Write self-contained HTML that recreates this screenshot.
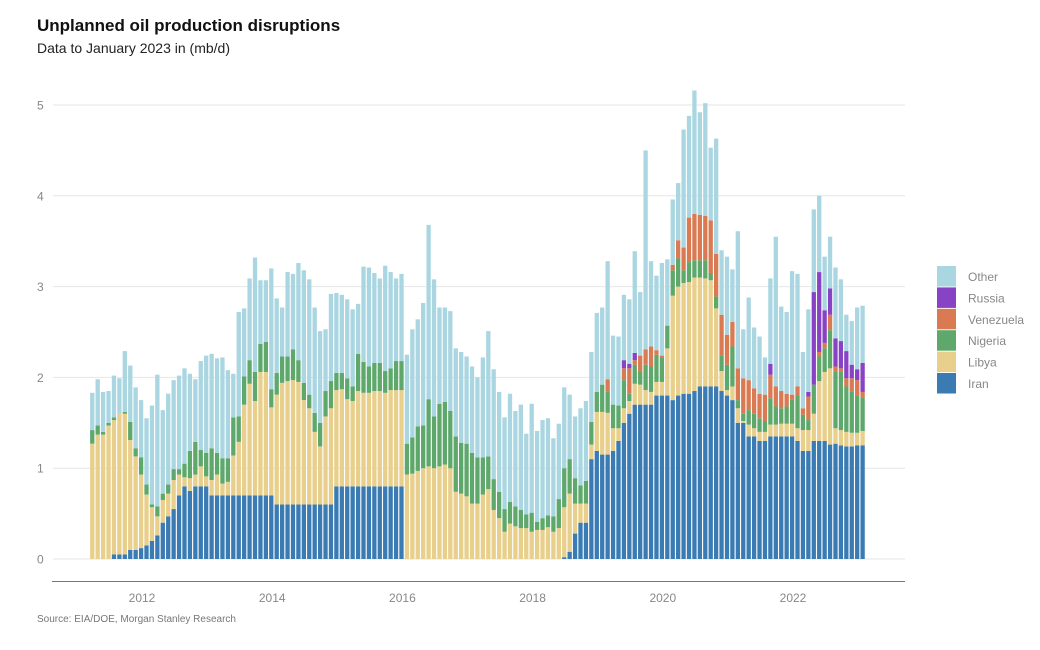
<!DOCTYPE html>
<html><head><meta charset="utf-8"><style>
body{margin:0;background:#fff;width:1040px;height:650px;overflow:hidden;font-family:"Liberation Sans",Arial,sans-serif}
svg{display:block}
</style></head><body>
<svg id="chart" width="1040" height="650" xmlns="http://www.w3.org/2000/svg" font-family="Liberation Sans, Arial, sans-serif">
<text x="37" y="31" font-size="17" font-weight="bold" fill="#111">Unplanned oil production disruptions</text>
<text x="37" y="53" font-size="14" fill="#222">Data to January 2023 in (mb/d)</text>
<g id="grid"></g>
<g id="bars"></g>
<g id="xaxis"></g>
<g id="legend"></g>
<text x="37" y="622" font-size="10" fill="#777">Source: EIA/DOE, Morgan Stanley Research</text>
</svg>
<script>
const yTicks=[0,1,2,3,4,5];
const xTickYears=[2012,2014,2016,2018,2020,2022];
const seriesNames=["Iran","Libya","Nigeria","Venezuela","Russia","Other"];
const startYear=2011.236;
const iran=[0,0,0,0,.05,.05,.05,.1,.1,.12,.15,.2,.26,.4,.47,.55,.7,.8,.75,.8,.8,.8,
.7,.7,.7,.7,.7,.7,.7,.7,.7,.7,.7,.7,
.6,.6,.6,.6,.6,.6,.6,.6,.6,.6,.6,
.8,.8,.8,.8,.8,.8,.8,.8,.8,.8,.8,.8,.8,
0,0,0,0,0,0,0,0,0,0,0,0,0,0,0,0,0,0,0,0,0,0,0,0,0,0,0,0,0,
.02,.08,.28,.4,.4,1.1,1.19,1.15,1.15,1.19,1.3,1.5,1.6,1.7,1.7,1.7,1.7,1.8,1.8,1.8,1.75,1.8,1.82,1.82,1.85,1.9,1.9,1.9,1.9,1.85,1.8,1.75,1.5,1.5,1.35,1.35,1.3,1.3,1.35,1.35,1.35,1.35,1.35,1.3,1.19,1.19,1.3,1.3,1.3,1.26,1.27,1.25,1.24,1.24,1.25,1.25];
const libya=[1.27,1.37,1.37,1.47,1.48,1.55,1.55,1.21,1.03,.81,.56,.37,.21,.25,.25,.32,.23,.1,.14,.13,.22,.11,.17,.23,.13,.15,.44,.59,1.0,1.23,1.04,1.36,1.36,.97,1.21,1.34,1.36,1.37,1.35,1.15,1.06,.8,.64,.97,1.06,1.06,1.07,.96,.94,1.05,1.03,1.03,1.05,1.05,1.03,1.06,1.06,1.06,
.93,.94,.97,1.0,1.02,1.0,1.02,1.04,1.0,.74,.72,.69,.61,.61,.71,.77,.54,.45,.3,.39,.36,.34,.34,.3,.32,.32,.35,.3,.34,
.55,.64,.33,.21,.21,.16,.43,.47,.46,.25,.14,.16,.14,.23,.22,.16,.14,.15,.15,.52,1.15,1.2,1.22,1.23,1.25,1.2,1.19,1.17,.86,.22,.06,.15,.16,.02,.13,.09,.1,.1,.13,.13,.14,.14,.14,.14,.23,.23,.3,.66,.76,.84,.17,.17,.16,.15,.14,.16];
const nigeria=[.15,.1,.03,.03,.03,0,.02,.2,.09,.19,.11,.03,.11,.07,.1,.12,.06,.15,.3,.36,.18,.26,.35,.24,.28,.26,.42,.28,.31,.26,.32,.31,.33,.2,.24,.29,.27,.34,.24,.19,.15,.21,.26,.28,.3,.19,.18,.23,.16,.41,.34,.29,.31,.31,.24,.24,.32,.32,
.34,.4,.49,.47,.74,.57,.69,.69,.63,.61,.56,.58,.56,.51,.41,.36,.34,.29,.25,.24,.22,.2,.15,.21,.09,.13,.13,.17,.32,
.43,.38,.28,.2,.25,.25,.22,.3,.23,.26,.25,.31,.08,.21,.14,.28,.28,.3,.27,.25,.28,.31,.14,.22,.19,.19,.2,.08,.13,.17,.28,.44,.09,.08,.16,.16,.15,.12,.29,.2,.17,.19,.27,.36,.17,.11,.32,.27,.26,.42,.62,.64,.5,.45,.41,.37];
const venezuela=[0,0,0,0,0,0,0,0,0,0,0,0,0,0,0,0,0,0,0,0,0,0,0,0,0,0,0,0,0,0,0,0,0,0,0,0,0,0,0,0,0,0,0,0,0,0,0,0,0,0,0,0,0,0,0,0,0,0,0,0,0,0,0,0,0,0,0,0,0,0,0,0,0,0,0,0,0,0,0,0,0,0,0,0,0,0,0,0,0,0,0,0,0,0,0,
.14,0,0,.13,.28,.05,.18,.17,.22,.05,.02,0,.06,.2,.25,.49,.51,.5,.49,.58,.47,.45,.33,.27,.35,.39,.33,.28,.27,.29,.26,.22,.19,.14,.05,.1,.07,.26,0,.05,.06,.17,.06,.04,.09,.15,.17,.06];
const russia=[0,0,0,0,0,0,0,0,0,0,0,0,0,0,0,0,0,0,0,0,0,0,0,0,0,0,0,0,0,0,0,0,0,0,0,0,0,0,0,0,0,0,0,0,0,0,0,0,0,0,0,0,0,0,0,0,0,0,0,0,0,0,0,0,0,0,0,0,0,0,0,0,0,0,0,0,0,0,0,0,0,0,0,0,0,0,0,0,0,0,0,0,0,0,0,0,0,0,
.09,.05,.08,0,0,0,0,0,0,0,0,0,0,0,0,0,0,0,0,0,0,0,0,0,0,0,0,.12,0,0,0,0,0,0,.05,1.02,.88,.36,.29,.31,.3,.3,.15,.12,.32];
const other=[.41,.51,.44,.35,.46,.39,.67,.62,.67,.63,.73,1.09,1.45,.92,1.0,.98,1.03,1.05,.85,.69,.98,1.07,1.04,1.04,1.11,.97,.48,1.15,.75,.9,1.26,.7,.68,1.33,.82,.54,.93,.83,1.07,1.24,1.27,1.16,1.01,.68,.96,.88,.86,.87,.85,.55,1.05,1.09,.99,.93,1.16,1.06,.91,.96,
.98,1.19,1.18,1.35,1.92,1.51,1.06,1.04,1.1,.97,1.0,.96,.95,.88,1.1,1.38,1.21,1.1,1.01,1.19,1.05,1.16,.89,1.2,1.0,1.08,1.07,.86,.83,
.89,.71,.68,.85,.88,.77,.87,.85,1.3,.76,.76,.72,.71,1.12,.7,2.19,.94,.82,1.02,.73,.72,.63,1.3,1.12,1.36,1.13,1.24,.8,1.27,.71,.86,.58,1.51,.54,.91,.67,.63,.41,.94,1.65,.93,.9,1.36,1.24,.62,.91,.91,.84,.59,.57,.78,.68,.4,.48,.68,.63];
const colors=["#3a7bb3","#e8cf8b","#5ea86c","#d97a52","#8843c4","#aad6e1"];

const NS="http://www.w3.org/2000/svg";
function mk(tag,attrs,parent){const e=document.createElementNS(NS,tag);for(const k in attrs)e.setAttribute(k,attrs[k]);parent.appendChild(e);return e;}
const y=v=>559-v*90.8;
const xYear=t=>142+(t-2012)*65.1;
const xBar=i=>xYear(startYear+i/12);
const grid=document.getElementById('grid');
yTicks.forEach(t=>{
  const l=mk('line',{x1:53,x2:905,y1:y(t),y2:y(t),stroke:'#e6e6e6','stroke-width':1},grid);
  
  
  const tx=mk('text',{x:37,y:y(t)+4.5,'font-size':12,fill:'#888'},grid);
  
  
  tx.textContent=t;
});
const series=[iran,libya,nigeria,venezuela,russia,other];
const bars=document.getElementById('bars');
const n=iran.length;
for(let i=0;i<n;i++){
  let base=0;const cx=xBar(i);
  series.forEach((s,k)=>{
    const v=s[i]||0;if(v<=0)return;
    const r=mk('rect',{x:(cx-2.15).toFixed(2),y:y(base+v).toFixed(2),width:4.3,height:(v*90.8).toFixed(2),fill:colors[k]},bars);
    
    
    base+=v;
  });
}
const xa=document.getElementById('xaxis');
const al=mk('line',{x1:52,x2:905,y1:581.5,y2:581.5,stroke:'#777','stroke-width':1},xa);


xTickYears.forEach(yr=>{
  const t=mk('text',{x:xYear(yr),y:602,'font-size':12,fill:'#888','text-anchor':'middle'},xa);
  
  
  t.textContent=yr;
});
const lg=document.getElementById('legend');
const order=[5,4,3,2,1,0];
order.forEach((k,j)=>{
  const r=mk('rect',{x:937,y:266+j*21.4,width:19,height:20.5,fill:colors[k]},lg);
  
  
  const t=mk('text',{x:968,y:281+j*21.4,'font-size':12,fill:'#888'},lg);
  
  
  t.textContent=seriesNames[k];
});
</script>
</body></html>
